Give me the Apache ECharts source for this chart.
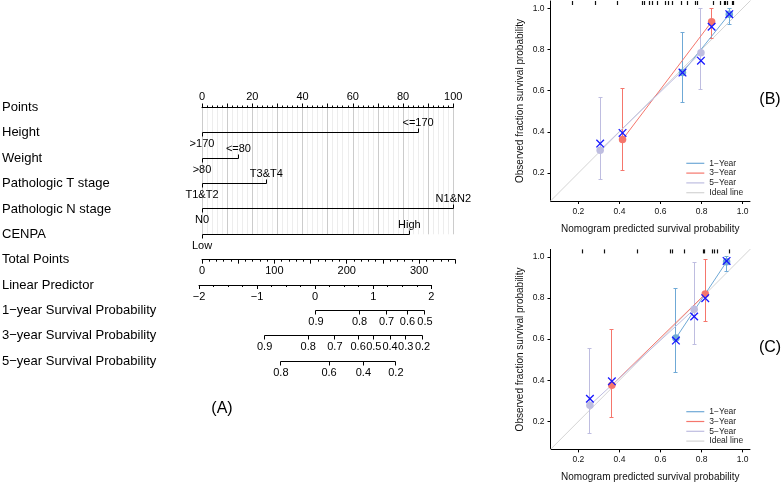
<!DOCTYPE html>
<html><head><meta charset="utf-8">
<script src="https://cdn.jsdelivr.net/npm/echarts@6/dist/echarts.min.js"></script>
<style>html,body{margin:0;padding:0;background:#fff}#c{width:784px;height:484px}</style>
</head><body><div id="c"></div>
<script>
// ---------------- Nomogram data ----------------
const rowLabels = ['Points','Height','Weight','Pathologic T stage','Pathologic N stage','CENPA','Total Points','Linear Predictor','1\u2212year Survival Probability','3\u2212year Survival Probability','5\u2212year Survival Probability'];
const heightLevels = ['>170','<=170'];   const heightPoints = [0, 86];
const weightLevels = ['>80','<=80'];     const weightPoints = [0, 14.5];
const tStageLevels = ['T1&T2','T3&T4'];  const tStagePoints = [0, 25.6];
const nStageLevels = ['N0','N1&N2'];     const nStagePoints = [0, 100];
const cenpaLevels  = ['Low','High'];     const cenpaPoints  = [0, 82.5];
const surv1Labels = ['0.9','0.8','0.7','0.6','0.5'];
const surv1LP     = [0.014, 0.765, 1.23, 1.59, 1.89];
const surv3Labels = ['0.9','0.8','0.7','0.6','0.5','0.4','0.3','0.2'];
const surv3LP     = [-0.87, -0.12, 0.34, 0.74, 1.01, 1.29, 1.56, 1.85];
const surv5Labels = ['0.8','0.6','0.4','0.2'];
const surv5LP     = [-0.59, 0.24, 0.83, 1.39];

// ---------------- Calibration data (B) ----------------
const bY1x = [0.707, 0.935], bY1obs = [0.688, 0.972], bY1lo = [0.543, 0.924], bY1hi = [0.884, 1.0], bY1km = [0.688, 0.972];
const bY3x = [0.415, 0.849], bY3obs = [0.363, 0.935], bY3lo = [0.213, 0.855], bY3hi = [0.613, 1.0], bY3km = [0.395, 0.911];
const bY5x = [0.306, 0.797], bY5obs = [0.311, 0.785], bY5lo = [0.169, 0.608], bY5hi = [0.569, 1.0], bY5km = [0.343, 0.746];
const bRug = [0.172, 0.285, 0.39, 0.51, 0.522, 0.545, 0.562, 0.585, 0.625, 0.64, 0.66, 0.70, 0.733, 0.772, 0.78, 0.86, 0.893, 0.91, 0.918, 0.927, 0.95, 0.958];
// ---------------- Calibration data (C) ----------------
const cY1x = [0.675, 0.922], cY1obs = [0.605, 0.976], cY1lo = [0.438, 0.931], cY1hi = [0.844, 1.0], cY1km = [0.593, 0.98];
const cY3x = [0.363, 0.818], cY3obs = [0.376, 0.819], cY3lo = [0.218, 0.685], cY3hi = [0.645, 0.987], cY3km = [0.395, 0.799];
const cY5x = [0.256, 0.764], cY5obs = [0.279, 0.745], cY5lo = [0.142, 0.576], cY5hi = [0.552, 0.971], cY5km = [0.31, 0.71];
const cRug = [0.22, 0.328, 0.487, 0.65, 0.658, 0.718, 0.81, 0.816, 0.853, 0.861, 0.88, 0.934];
const calTicks = [0.2, 0.4, 0.6, 0.8, 1.0];
const idealLine = [[0, 0], [1.2, 1.2]];
const calNames = ['1\u2212Year', '3\u2212Year', '5\u2212Year', 'Ideal line'];

// ---------------- styling ----------------
const FONT = '"Liberation Sans", Arial, Helvetica, sans-serif';
const BLACK = '#000';
const COL1 = '#6fa9d6', COL3 = '#f5766c', COL5 = '#bebde0', COLI = '#d4d4d4', COLX = '#1515ff';
const calColors = [COL1, COL3, COL5, COLI];
const CAL_MIN = 0.064, CAL_MAX = 1.036;

const nomVars = [
  {levels: heightLevels, pts: heightPoints},
  {levels: weightLevels, pts: weightPoints},
  {levels: tStageLevels, pts: tStagePoints},
  {levels: nStageLevels, pts: nStagePoints},
  {levels: cenpaLevels,  pts: cenpaPoints}
];
const survRows = [
  {labels: surv1Labels, lp: surv1LP},
  {labels: surv3Labels, lp: surv3LP},
  {labels: surv5Labels, lp: surv5LP}
];
function crisp(v){ return Math.round(v - 0.5) + 0.5; }
const lineSt = {stroke: BLACK, lineWidth: 1};

function renderLevels(params, api){
  const v = nomVars[params.dataIndex];
  const row = api.value(2);
  const a = api.coord([api.value(0), row]), b = api.coord([api.value(1), row]);
  const y = crisp(a[1]);
  const ch = [{type:'line', shape:{x1:crisp(a[0]), y1:y, x2:crisp(b[0]), y2:y}, style:lineSt}];
  v.pts.forEach((pt, j) => {
    const p = api.coord([pt, row]); const x = crisp(p[0]); const dir = j % 2 === 0 ? 1 : -1;
    ch.push({type:'line', shape:{x1:x, y1:y, x2:x, y2:y + dir*4}, style:lineSt});
    ch.push({type:'text', style:{text:v.levels[j], x:p[0], y: dir > 0 ? y + 5.5 : y - 4,
      align:'center', verticalAlign: dir > 0 ? 'top' : 'bottom', fontSize:11, fontFamily:FONT, fill:BLACK}});
  });
  return {type:'group', children:ch};
}
function renderSurv(params, api){
  const r = survRows[params.dataIndex];
  const row = api.value(2);
  const a = api.coord([api.value(0), row]), b = api.coord([api.value(1), row]);
  const y = crisp(a[1]);
  const ch = [{type:'line', shape:{x1:crisp(a[0]), y1:y, x2:crisp(b[0]), y2:y}, style:lineSt}];
  r.lp.forEach((lp, j) => {
    const p = api.coord([lp, row]); const x = crisp(p[0]);
    ch.push({type:'line', shape:{x1:x, y1:y, x2:x, y2:y + 4}, style:lineSt});
    ch.push({type:'text', style:{text:r.labels[j], x:p[0], y:y + 6, align:'center', verticalAlign:'top',
      fontSize:11, fontFamily:FONT, fill:BLACK}});
  });
  return {type:'group', children:ch};
}
function renderErr(params, api){
  const x = api.value(0);
  const pl = api.coord([x, api.value(1)]), ph = api.coord([x, api.value(2)]);
  const cx = crisp(pl[0]); const c = api.visual('color');
  const st = {stroke:c, lineWidth:1};
  return {type:'group', children:[
    {type:'line', shape:{x1:cx, y1:pl[1], x2:cx, y2:ph[1]}, style:st},
    {type:'line', shape:{x1:cx-2, y1:crisp(pl[1]), x2:cx+2, y2:crisp(pl[1])}, style:st},
    {type:'line', shape:{x1:cx-2, y1:crisp(ph[1]), x2:cx+2, y2:crisp(ph[1])}, style:st}
  ]};
}
function renderX(params, api){
  const p = api.coord([api.value(0), api.value(1)]); const s = 3.8;
  const st = {stroke:COLX, lineWidth:1.3};
  return {type:'group', children:[
    {type:'line', shape:{x1:p[0]-s, y1:p[1]-s, x2:p[0]+s, y2:p[1]+s}, style:st},
    {type:'line', shape:{x1:p[0]-s, y1:p[1]+s, x2:p[0]+s, y2:p[1]-s}, style:st}
  ]};
}
function renderRug(params, api){
  const p = api.coord([api.value(0), api.value(1)]); const x = crisp(p[0]);
  return {type:'line', shape:{x1:x, y1:p[1], x2:x, y2:p[1] + 4}, style:{stroke:'#111', lineWidth:1.2}};
}

function calSeries(ax, groups, rug){
  const s = [{type:'line', name:'Ideal line', xAxisIndex:ax, yAxisIndex:ax, data:idealLine, symbol:'none',
    color:COLI, lineStyle:{color:COLI, width:1}, clip:true, silent:true, z:1}];
  groups.forEach(g => {
    s.push({type:'custom', name:g.name + ' CI', xAxisIndex:ax, yAxisIndex:ax, renderItem:renderErr,
      itemStyle:{color:g.color}, data:g.x.map((x,i)=>[x, g.lo[i], g.hi[i]]), silent:true, z:2});
  });
  groups.forEach(g => {
    s.push({type:'line', name:g.name, xAxisIndex:ax, yAxisIndex:ax, symbol:'none', color:g.color,
      lineStyle:{color:g.color, width:1}, data:g.x.map((x,i)=>[x, g.obs[i]]), silent:true, z:3});
  });
  groups.forEach(g => {
    s.push({type:'scatter', name:g.name + ' pts', xAxisIndex:ax, yAxisIndex:ax, symbol:'circle', symbolSize:7.5,
      itemStyle:{color:g.color, opacity:1}, data:g.x.map((x,i)=>[x, g.obs[i]]), silent:true, z:4});
  });
  groups.forEach(g => {
    s.push({type:'custom', name:g.name + ' KM', xAxisIndex:ax, yAxisIndex:ax, renderItem:renderX,
      data:g.x.map((x,i)=>[x, g.km[i]]), silent:true, z:5});
  });
  s.push({type:'custom', name:'rug', xAxisIndex:ax, yAxisIndex:ax, renderItem:renderRug,
    data:rug.map(x=>[x, CAL_MAX]), silent:true, z:6});
  return s;
}
const groupsB = [
  {name:calNames[0], color:COL1, x:bY1x, obs:bY1obs, lo:bY1lo, hi:bY1hi, km:bY1km},
  {name:calNames[1], color:COL3, x:bY3x, obs:bY3obs, lo:bY3lo, hi:bY3hi, km:bY3km},
  {name:calNames[2], color:COL5, x:bY5x, obs:bY5obs, lo:bY5lo, hi:bY5hi, km:bY5km}
];
const groupsC = [
  {name:calNames[0], color:COL1, x:cY1x, obs:cY1obs, lo:cY1lo, hi:cY1hi, km:cY1km},
  {name:calNames[1], color:COL3, x:cY3x, obs:cY3obs, lo:cY3lo, hi:cY3hi, km:cY3km},
  {name:calNames[2], color:COL5, x:cY5x, obs:cY5obs, lo:cY5lo, hi:cY5hi, km:cY5km}
];

const axLine = {show:true, lineStyle:{color:BLACK, width:1}};
const hiddenY = (g, min, max, inv) => ({type:'value', gridIndex:g, min, max, inverse:!!inv, show:false});
function calX(g){ return {type:'value', gridIndex:g, min:CAL_MIN, max:CAL_MAX, position:'bottom',
  axisLine:axLine, axisTick:{show:true, length:3, customValues:calTicks, lineStyle:{color:BLACK}},
  axisLabel:{customValues:calTicks, formatter:v=>v.toFixed(1), fontSize:8.5, color:'#111', fontFamily:FONT, margin:6},
  splitLine:{show:false}, name:'Nomogram predicted survival probability', nameLocation:'middle', nameGap:23,
  nameTextStyle:{fontSize:10, color:'#111', fontFamily:FONT}}; }
function calY(g){ return {type:'value', gridIndex:g, min:CAL_MIN, max:CAL_MAX, position:'left',
  axisLine:axLine, axisTick:{show:true, length:3, customValues:calTicks, lineStyle:{color:BLACK}},
  axisLabel:{customValues:calTicks, formatter:v=>v.toFixed(1), fontSize:8.5, color:'#111', fontFamily:FONT, margin:6},
  splitLine:{show:false}, name:'Observed fraction survival probability', nameLocation:'middle', nameGap:25,
  nameTextStyle:{fontSize:10, color:'#111', fontFamily:FONT}}; }
function mkLegend(top){ return {orient:'vertical', left:686.3, top, itemWidth:18, itemHeight:1.2, itemGap:0,
  icon:'rect', padding:0, selectedMode:false,
  textStyle:{fontSize:8.5, lineHeight:9.8, color:'#222', fontFamily:FONT},
  data:calNames.map((n, i) => ({name:n, icon:'rect', itemStyle:{color:calColors[i], borderWidth:0}}))}; }

const gridBase = {containLabel:false, outerBoundsMode:'none'};
const ROW0 = 107.5, ROWH = 25.36;

const option = {
  animation:false,
  backgroundColor:'#fff',
  textStyle:{fontFamily:FONT},
  grid:[
    Object.assign({left:202, top:ROW0, width:251.3, height:ROWH*5}, gridBase),
    Object.assign({left:202, top:ROW0 + ROWH*6 - 1, width:253.3, height:1}, gridBase),
    Object.assign({left:199, top:ROW0 + ROWH*7 - 1, width:232.3, height:1}, gridBase),
    Object.assign({left:199, top:ROW0 + ROWH*8, width:232.3, height:ROWH*2}, gridBase),
    Object.assign({left:550.5, top:1, width:199.5, height:200}, gridBase),
    Object.assign({left:550.5, top:249.4, width:199.5, height:200}, gridBase)
  ],
  xAxis:[
    {type:'value', gridIndex:0, position:'top', min:0, max:100, interval:10,
     axisLine:axLine, axisTick:{show:true, length:4, lineStyle:{color:BLACK}},
     minorTick:{show:true, splitNumber:5, length:2, lineStyle:{color:BLACK}},
     axisLabel:{formatter:v => v % 20 === 0 ? String(v) : '', fontSize:11, color:BLACK, margin:5, fontFamily:FONT},
     splitLine:{show:true, lineStyle:{color:'#cccccc', width:1}},
     minorSplitLine:{show:true, lineStyle:{color:'#ededed', width:1}}},
    {type:'value', gridIndex:1, position:'bottom', min:0, max:350, interval:50,
     axisLine:axLine, axisTick:{show:true, length:4, lineStyle:{color:BLACK}},
     minorTick:{show:true, splitNumber:5, length:2, lineStyle:{color:BLACK}},
     axisLabel:{formatter:v => v % 100 === 0 ? String(v) : '', fontSize:11, color:BLACK, margin:6, fontFamily:FONT},
     splitLine:{show:false}},
    {type:'value', gridIndex:2, position:'bottom', min:-2, max:2, interval:1,
     axisLine:axLine, axisTick:{show:true, length:4, lineStyle:{color:BLACK}},
     minorTick:{show:true, splitNumber:4, length:2, lineStyle:{color:BLACK}},
     axisLabel:{formatter:v => String(v).replace('-', '\u2212'), fontSize:11, color:BLACK, margin:6, fontFamily:FONT},
     splitLine:{show:false}},
    {type:'value', gridIndex:3, min:-2, max:2, show:false},
    calX(4), calX(5)
  ],
  yAxis:[
    hiddenY(0, 0, 5, true), hiddenY(1, 0, 1), hiddenY(2, 0, 1), hiddenY(3, 0, 2, true),
    calY(4), calY(5)
  ],
  legend:[mkLegend(158.4), mkLegend(406.8)],
  graphic:[
    ...rowLabels.map((t, i) => ({type:'text', x:2, y:ROW0 + ROWH*i,
      style:{text:t, fontSize:13, fontFamily:FONT, fill:BLACK, verticalAlign:'middle', align:'left'}})),
    {type:'text', x:222, y:409, style:{text:'(A)', fontSize:16, fontFamily:FONT, fill:BLACK, align:'center', verticalAlign:'middle'}},
    {type:'text', x:770, y:100, style:{text:'(B)', fontSize:16, fontFamily:FONT, fill:BLACK, align:'center', verticalAlign:'middle'}},
    {type:'text', x:770, y:348, style:{text:'(C)', fontSize:16, fontFamily:FONT, fill:BLACK, align:'center', verticalAlign:'middle'}}
  ],
  series:[
    {type:'custom', name:'levels', xAxisIndex:0, yAxisIndex:0, renderItem:renderLevels, silent:true,
     data:nomVars.map((v, i) => [Math.min(...v.pts), Math.max(...v.pts), i + 1])},
    {type:'custom', name:'survival', xAxisIndex:3, yAxisIndex:3, renderItem:renderSurv, silent:true,
     data:survRows.map((r, i) => [Math.min(...r.lp), Math.max(...r.lp), i])},
    ...calSeries(4, groupsB, bRug),
    ...calSeries(5, groupsC, cRug)
  ]
};
const chart = echarts.init(document.getElementById('c'), null, {renderer:'canvas'});
chart.setOption(option);
</script></body></html>
